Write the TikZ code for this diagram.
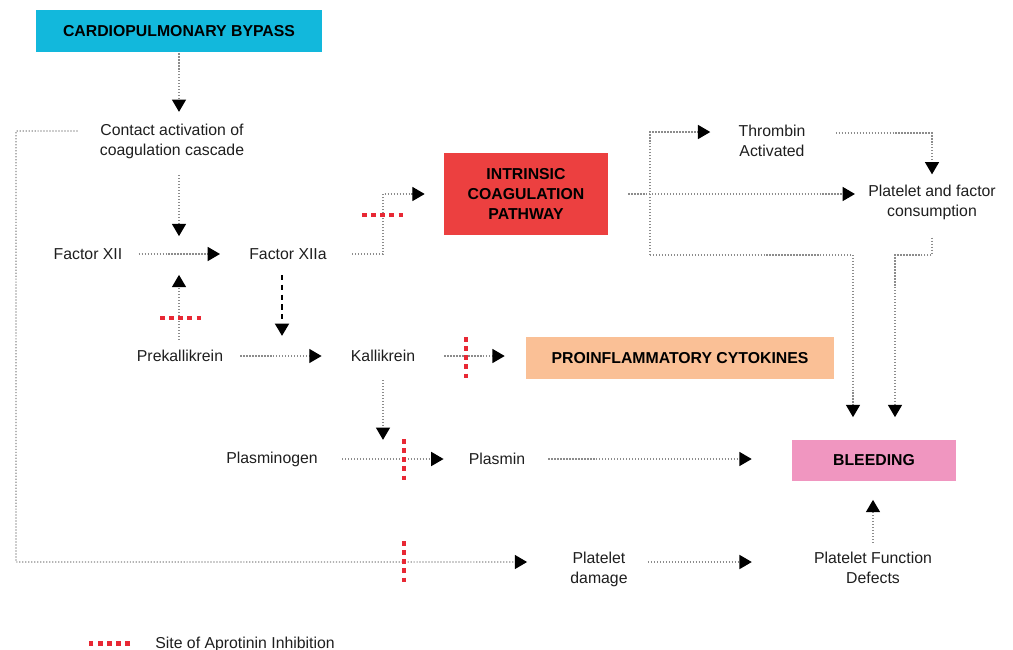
\documentclass[tikz,border=0pt]{standalone}
\usepackage{fontspec}
\setmainfont{Liberation Sans}
\usetikzlibrary{arrows.meta}
\definecolor{mcyan}{RGB}{18,184,220}
\definecolor{mred}{RGB}{236,64,64}
\definecolor{mpeach}{RGB}{250,192,150}
\definecolor{mpink}{RGB}{240,150,192}
\definecolor{mink}{RGB}{30,30,30}
\definecolor{mdot}{RGB}{140,140,140}
\definecolor{minhib}{RGB}{232,40,52}
\tikzset{lbl/.style = {font=\fontsize{9}{11.3}\selectfont, text=mink, align=center, inner sep=0pt},
         box/.style = {lbl, font=\fontsize{9}{11.3}\selectfont\bfseries, text=black},
         flow/.style = {mdot, densely dotted, line width=0.7pt,
                        -{Triangle[length=7pt, width=8pt, black]}},
         heavy/.style = {black, line width=1.1pt, dash pattern=on 3pt off 2.6pt,
                         -{Triangle[length=7pt, width=8pt]}},
         inhib/.style = {minhib, line width=2.8pt, dash pattern=on 2.8pt off 2.4pt}}

\begin{document}
\begin{tikzpicture}[x=0.02cm, y=-0.02cm]
    \useasboundingbox (0, 0) rectangle (1013, 649);
    \node [box, fill=mcyan, minimum width=5.72cm, minimum height=0.84cm] (cpb) at (179, 31) {CARDIOPULMONARY BYPASS};
    \node [box, fill=mred, minimum width=3.28cm, minimum height=1.64cm] (intr) at (526, 194) {INTRINSIC\\COAGULATION\\PATHWAY};
    \node [box, fill=mpeach, minimum width=6.16cm, minimum height=0.84cm] (cyto) at (680, 358) {PROINFLAMMATORY CYTOKINES};
    \node [box, fill=mpink, minimum width=3.28cm, minimum height=0.82cm] (bleed) at (874, 460) {BLEEDING};

    \node [lbl] (contact) at (172, 141) {Contact activation of\\coagulation cascade};
    \node [lbl] (xii) at (88, 254) {Factor XII};
    \node [lbl] (xiia) at (288, 254) {Factor XIIa};
    \node [lbl] (prek) at (180, 356) {Prekallikrein};
    \node [lbl] (kall) at (383, 356) {Kallikrein};
    \node [lbl] (plgn) at (272, 459) {Plasminogen};
    \node [lbl] (plsm) at (497, 459) {Plasmin};
    \node [lbl] (thromb) at (772, 141) {Thrombin\\Activated};
    \node [lbl] (cons) at (932, 202) {Platelet and factor\\consumption};
    \node [lbl] (pdmg) at (599, 569) {Platelet\\damage};
    \node [lbl] (pfd) at (873, 568) {Platelet Function\\Defects};
    \node [lbl, anchor=base west] (key) at (155, 648) {Site of Aprotinin Inhibition};
    \coordinate (lft) at (16, 562);
    \coordinate (brtop) at (650, 132);
    \coordinate (brbot) at (650, 255);

    \draw [flow, shorten <=0.02cm, shorten >=0.23cm] (cpb.south) -- (cpb.south |- contact.north);
    \draw [flow, shorten <=0.33cm, shorten >=0.24cm] (cpb.south |- contact.south) -- (cpb.south |- xii.north);
    \draw [flow, shorten <=0.32cm, shorten >=0.58cm] (xii.east) -- (xiia.west);
    \draw [flow, shorten <=0.2cm, shorten >=0.3cm] (cpb.south |- prek.north) -- (cpb.south |- xii.south);
    \draw [heavy, shorten <=0.3cm, shorten >=0.28cm] ([xshift=-0.12cm]xiia.south) -- ([xshift=-0.12cm]xiia.south |- kall.north);
    \draw [flow, shorten <=0.34cm, shorten >=0.58cm] (prek.east) -- (kall.west);
    \draw [flow, shorten <=0.58cm, shorten >=0.42cm] (kall.east) -- (kall.east -| cyto.west);
    \draw [flow, shorten <=0.36cm, shorten >=0.26cm] (kall.south) -- (kall.south |- plsm.north);
    \draw [flow, shorten <=0.48cm, shorten >=0.5cm] (plgn.east) -- (plsm.west);
    \draw [flow, shorten <=0.46cm, shorten >=0.8cm] (plsm.east) -- (plsm.east -| bleed.west);
    \draw [flow, shorten <=0.18cm, shorten >=0.38cm] (pfd.north) -- (pfd.north |- bleed.south);
    \draw [flow, shorten <=0.4cm, shorten >=1.24cm] ([yshift=0.14cm]pdmg.east) -- ([yshift=0.14cm]pdmg.east -| pfd.west);
    \draw [flow, shorten <=0.44cm, shorten >=0.86cm] ([yshift=0.2cm]contact.west) -| (lft) -- ([yshift=0.14cm]pdmg.west);
    \draw [flow, shorten <=0.5cm, shorten >=0.38cm] (xiia.east) -- ++(56, 0) |- (intr.west);
    \draw [flow, shorten <=0.4cm, shorten >=0.26cm] (intr.east) -- (intr.east -| cons.west);
    \draw [flow, shorten >=0.56cm] (brbot) -- (brtop) -- (brtop -| thromb.west);
    \draw [flow, shorten >=0.44cm] (brbot) -| ([xshift=-0.42cm]bleed.north);
    \draw [flow, shorten <=0.6cm, shorten >=0.2cm] ([yshift=0.16cm]thromb.east) -| (cons.north);
    \draw [flow, shorten <=0.36cm, shorten >=0.44cm] (cons.south) -- (cons.south |- brbot) -| ([xshift=0.42cm]bleed.north);

    % sites of inhibition
    \draw [inhib] (160, 318) -- (201, 318);
    \draw [inhib] (362, 215) -- (403, 215);
    \draw [inhib] (466, 337) -- (466, 378);
    \draw [inhib] (404, 439) -- (404, 480);
    \draw [inhib] (404, 541) -- (404, 582);
    \draw [inhib] ([xshift=-0.5cm]key.west) -- ++(-42, 0);
\end{tikzpicture}
\end{document}
